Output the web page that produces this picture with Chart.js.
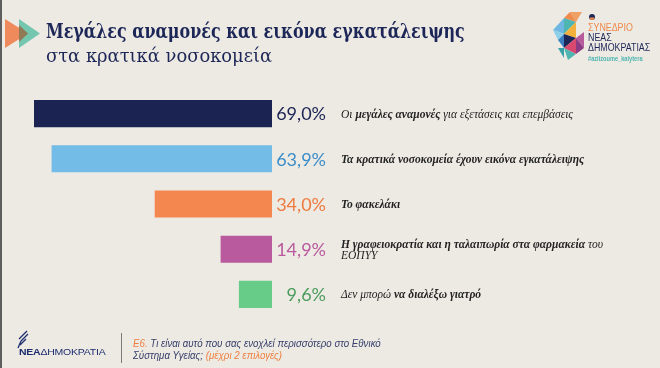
<!DOCTYPE html>
<html>
<head>
<meta charset="utf-8">
<script src="https://cdn.jsdelivr.net/npm/chart.js@4"></script>
<style>
  html, body { margin: 0; padding: 0; }
  body { width: 660px; height: 368px; overflow: hidden; background: #edeae4; position: relative; font-family: "Liberation Serif", serif; }
  #frame { position: absolute; left: 0; top: 0; width: 2px; height: 368px; background: #5e5e5e; }
  canvas { position: absolute; left: 0; top: 0; }
  .abs { position: absolute; white-space: nowrap; transform-origin: left center; }
  #title { left: 46px; top: 18px; font-family: "DejaVu Serif", serif; font-weight: bold; font-size: 21px; color: #1d2757; }
  #subtitle { left: 46px; top: 44px; font-family: "DejaVu Serif", serif; font-size: 19px; color: #1d2757; }
  .desc { left: 341px; font-style: italic; font-size: 11.5px; line-height: 10.5px; color: #222; transform: translateY(-50%); }
  .desc b { font-weight: bold; }
  #sep { left: 121px; top: 333px; width: 1px; height: 30px; background: #7a7a7a; }
  #question { left: 133px; top: 337px; transform-origin: left top; font-family: "Liberation Sans", sans-serif; font-style: italic; font-size: 10.5px; line-height: 12px; color: #38406b; }
  #question .o { color: #ee7f3f; }
  #ndlogo { left: 19px; top: 346px; font-family: "Liberation Sans", sans-serif; font-size: 9.5px; color: #1d2d6e; letter-spacing: -0.2px; }
  #congress { left: 588px; top: 22px; transform-origin: left top; font-family: "Liberation Sans", sans-serif; font-size: 11px; line-height: 10px; color: #1d2757; }
  #congress .o { color: #ee8a4c; }
  #congress .t { color: #4fb5b0; font-size: 7px; font-weight: bold; }
</style>
</head>
<body>
<div id="frame"></div>
<canvas id="chart" width="660" height="368"></canvas>

<svg class="abs" style="left:0;top:0" width="60" height="60">
  <polygon points="5,19 28,33.5 5,48" fill="#ee8a5b"/>
  <polygon points="19,19 40,33.5 19,48" fill="#5fbfa6" fill-opacity="0.85"/>
  <polygon points="19,25 28,33.5 19,42" fill="#8f7a55"/>
</svg>

<div class="abs" id="title">Μεγάλες αναμονές και εικόνα εγκατάλειψης</div>
<div class="abs" id="subtitle">στα κρατικά νοσοκομεία</div>

<!-- congress logo -->
<svg class="abs" style="left:550px;top:8px" width="40" height="56">
  <polygon points="20,4 32,4 26,14" fill="#f0a064"/>
  <polygon points="14,10 26,14 20,4" fill="#ee8a4c"/>
  <polygon points="3,22 14,10 14,26" fill="#6fb7e3"/>
  <polygon points="14,10 26,14 14,26" fill="#4fb5b0"/>
  <polygon points="14,26 26,14 26,30" fill="#f3b13c"/>
  <polygon points="3,22 14,26 8,32" fill="#8dd0ea"/>
  <polygon points="14,26 26,30 14,40" fill="#1d2757"/>
  <polygon points="8,32 14,26 14,40" fill="#3c7fc0"/>
  <polygon points="26,30 34,24 34,40" fill="#b85b9d"/>
  <polygon points="14,40 26,30 26,46" fill="#d9486e"/>
  <polygon points="26,30 34,40 26,46" fill="#8a3b84"/>
  <polygon points="14,40 26,46 18,52" fill="#4fb5b0"/>
  <polygon points="8,40 14,40 14,50" fill="#3aa0a8"/>
</svg>
<svg class="abs" style="left:588px;top:13px" width="8" height="8">
  <circle cx="4" cy="4" r="3" fill="#1d2757"/>
  <path d="M1.5 4.5 A2.5 2.5 0 0 0 6.5 4.5 Z" fill="#ee8a4c"/>
</svg>
<div class="abs" id="congress"><span class="o">ΣΥΝΕΔΡΙΟ</span><br>ΝΕΑΣ<br>ΔΗΜΟΚΡΑΤΙΑΣ<br><span class="t">#aziizoume_kalytera</span></div>

<!-- footer -->
<svg class="abs" style="left:15px;top:330px" width="16" height="20">
  <path d="M12 1 L4 9 M13 4 L6 11 M11 9 L5 15 M6 11 L3 18" stroke="#1d2d6e" stroke-width="1.3" fill="none"/>
</svg>
<div class="abs" id="ndlogo"><b>ΝΕΑ</b>ΔΗΜΟΚΡΑΤΙΑ</div>
<div class="abs" id="sep"></div>
<div class="abs" id="question"><span class="o">Ε6.</span> Τι είναι αυτό που σας ενοχλεί περισσότερο στο Εθνικό<br>Σύστημα Υγείας; <span class="o">(μέχρι 2 επιλογές)</span></div>

<script>
const categories = [
    'Οι <b>μεγάλες αναμονές</b> για εξετάσεις και επεμβάσεις',
    '<b>Τα κρατικά νοσοκομεία έχουν εικόνα εγκατάλειψης</b>',
    '<b>Το φακελάκι</b>',
    '<b>Η γραφειοκρατία και η ταλαιπωρία στα φαρμακεία</b> του<br>ΕΟΠΥΥ',
    'Δεν μπορώ <b>να διαλέξω γιατρό</b>'
];
const values = [69.0, 63.9, 34.0, 14.9, 9.6];
const barColors = ['#1b2353', '#74bce8', '#f3874f', '#b85a9d', '#68cc89'];
const labelColors = ['#1b2353', '#3b8dc9', '#ee7a3e', '#b85a9d', '#4b9c5c'];

// squeeze/stretch a text block to the width it has in the picture
function fitWidth(id, w) {
    const el = document.getElementById(id);
    el.style.transform = 'scaleX(' + (w / el.offsetWidth) + ')';
}

// descriptions, placed next to each bar once the chart has laid out
const descEls = categories.map(c => {
    const d = document.createElement('div');
    d.className = 'abs desc';
    d.innerHTML = c;
    document.body.appendChild(d);
    return d;
});

const valueLabels = {
    id: 'valueLabels',
    afterDatasetsDraw(chart) {
        const ctx = chart.ctx;
        const meta = chart.getDatasetMeta(0);
        ctx.save();
        ctx.font = '18px Lato, "Open Sans", sans-serif';
        ctx.textAlign = 'right';
        ctx.textBaseline = 'middle';
        meta.data.forEach((bar, i) => {
            ctx.fillStyle = labelColors[i];
            ctx.fillText(values[i].toFixed(1).replace('.', ',') + '%', chart.chartArea.right + 54, bar.y + 1);
            descEls[i].style.top = bar.y + 'px';
        });
        ctx.restore();
    }
};

const ctx = document.getElementById('chart').getContext('2d');
const chart = new Chart(ctx, {
    type: 'bar',
    data: {
        labels: categories,
        datasets: [{
            data: values,
            backgroundColor: barColors,
            barPercentage: 0.6,
            categoryPercentage: 1.0
        }]
    },
    options: {
        indexAxis: 'y',
        responsive: false,
        animation: false,
        devicePixelRatio: 1,
        layout: { padding: { left: 34, right: 388, top: 91, bottom: 51 } },
        scales: {
            x: { display: false, reverse: true, min: 0, max: 69 },
            y: { display: false }
        },
        plugins: {
            legend: { display: false },
            tooltip: { enabled: false }
        }
    },
    plugins: [valueLabels]
});

fitWidth('title', 419);
fitWidth('subtitle', 226);
fitWidth('ndlogo', 86);
fitWidth('question', 248);
fitWidth('congress', 62);
</script>
</body>
</html>
